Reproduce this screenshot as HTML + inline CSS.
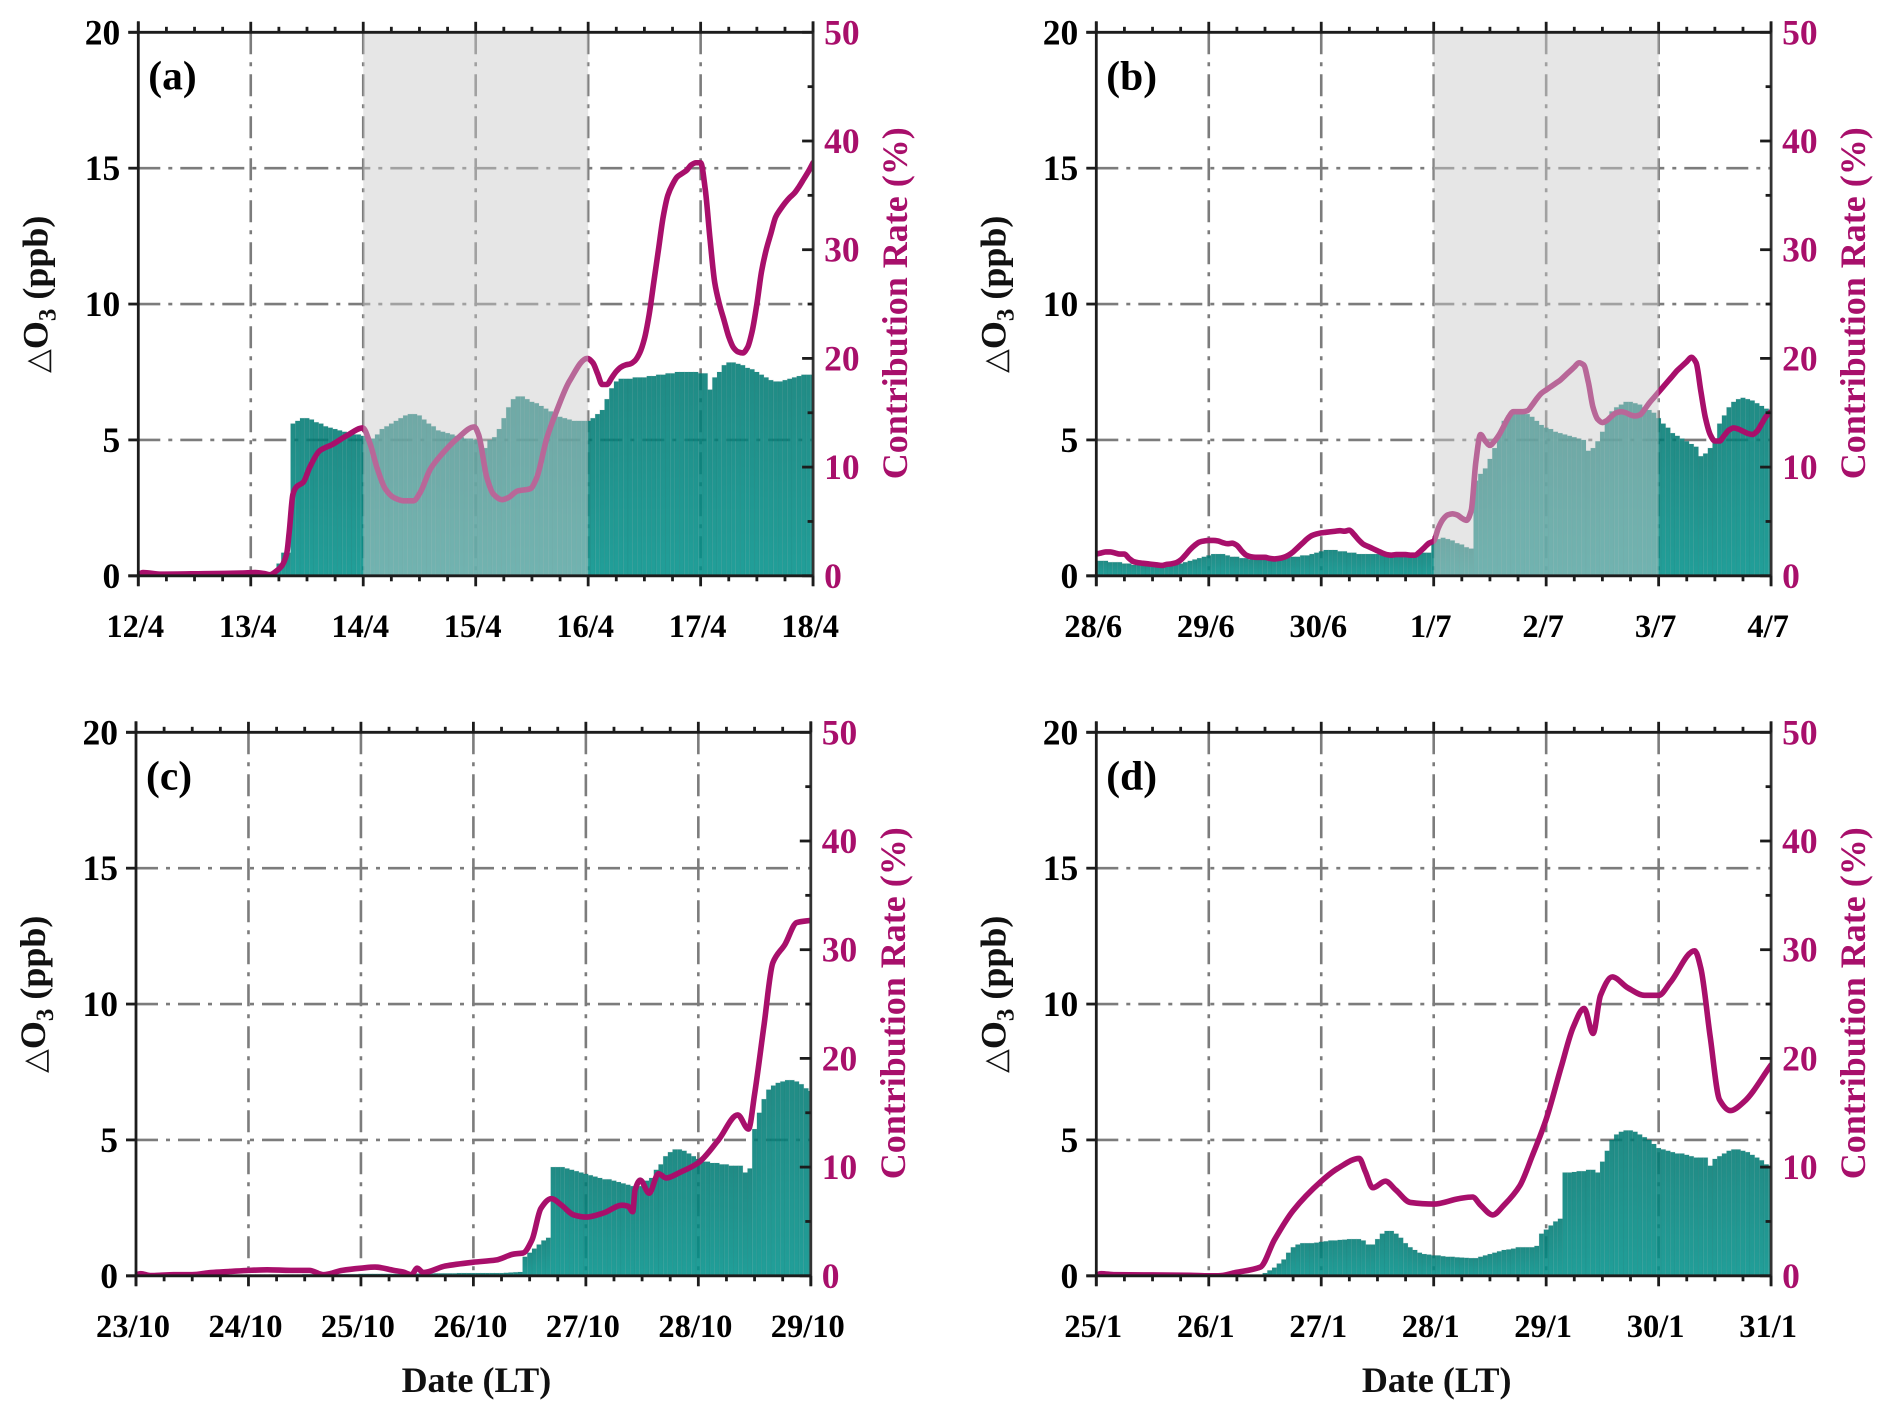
<!DOCTYPE html>
<html lang="en">
<head>
<meta charset="utf-8">
<title>Ozone contribution panels</title>
<style>
html,body{margin:0;padding:0;background:#fff;}
svg{display:block;}
text{font-family:"Liberation Serif","DejaVu Serif",serif;font-weight:bold;}
</style>
</head>
<body>
<svg id="figure" xmlns="http://www.w3.org/2000/svg" width="1892" height="1420" viewBox="0 0 1892 1420"></svg>
<script>
const dateLabelsA = ['12/4','13/4','14/4','15/4','16/4','17/4','18/4'];
const dateLabelsB = ['28/6','29/6','30/6','1/7','2/7','3/7','4/7'];
const dateLabelsC = ['23/10','24/10','25/10','26/10','27/10','28/10','29/10'];
const dateLabelsD = ['25/1','26/1','27/1','28/1','29/1','30/1','31/1'];
const leftTicks = [0,5,10,15,20];
const rightTicks = [0,10,20,30,40,50];

const barsA = [
.05,.05,.05,.05,.05,.05,.05,.05,.05,.05,.05,.05,.05,.05,.05,.05,.05,.05,.05,.05,.05,.05,.05,.05,
.05,.05,.05,.05,.1,.15,.45,.85,.85,5.6,5.7,5.8,5.8,5.75,5.65,5.6,5.5,5.45,5.4,5.35,5.3,5.25,5.2,5.2,
5.15,5.05,5.05,5.2,5.4,5.5,5.6,5.7,5.8,5.9,5.95,5.95,5.9,5.75,5.6,5.5,5.35,5.3,5.25,5.2,5.15,5.1,5.05,5.05,
5.0,4.95,4.7,5.0,5.1,5.4,5.8,6.2,6.5,6.6,6.6,6.5,6.4,6.35,6.25,6.15,6.05,5.95,5.85,5.8,5.75,5.7,5.7,5.7,
5.7,5.8,5.95,6.1,6.5,6.9,7.15,7.25,7.25,7.25,7.3,7.3,7.3,7.35,7.35,7.4,7.4,7.45,7.45,7.5,7.5,7.5,7.5,7.5,
7.45,7.45,6.85,7.3,7.5,7.75,7.85,7.85,7.8,7.75,7.65,7.6,7.5,7.4,7.3,7.2,7.15,7.15,7.2,7.25,7.3,7.35,7.4,7.4,7.4];
const rateHoursA = [0,1,5,14,22,25,27,28.1,29.5,30.6,31.65,32.2,33,33.8,35.2,36.6,38.7,41.5,44.5,47.9,49.5,50.9,52.7,54.5,56.6,58.7,60.2,62.3,64.4,68,71.7,72.6,74.4,75.8,77.6,79,80.9,83.6,85,87.2,89.3,92,95.8,
97,98,99,100,101,102,103,104,105,106,107,108,109,110,111,112,113,114,115,116,117,118,119,120,121,122,123,124,125,126,127,128,129,130,131,132,133,134,135,136,137,138,139,140,141,142,143,144];
const rateValuesA = [.1,.3,.15,.2,.25,.3,.2,.1,.45,.9,2,4,7.5,8.2,8.6,10,11.5,12.1,12.9,13.6,12.1,10,8,7.2,6.9,6.9,7.7,9.8,11,12.6,13.7,13,9,7.5,7,7.2,7.8,8,9,12.7,15.2,17.9,20,
19.6,18.6,17.6,17.6,18.2,18.8,19.2,19.4,19.5,19.8,20.5,21.8,24,27,30,33,35,36,36.7,37,37.3,37.8,38,38,35.5,31,27,25,23.5,22,21,20.6,20.5,21,22.5,25,28,30,31.5,33,33.7,34.3,34.8,35.2,35.8,36.5,37.2,38];

const barsB = [
.55,.55,.55,.5,.5,.5,.45,.45,.4,.4,.4,.4,.4,.4,.4,.4,.4,.45,.45,.5,.55,.6,.65,.7,
.75,.8,.8,.8,.75,.7,.7,.65,.65,.6,.6,.6,.6,.6,.65,.65,.7,.7,.7,.7,.75,.75,.8,.85,
.9,.95,.95,.95,.9,.9,.85,.85,.8,.8,.8,.8,.8,.8,.8,.8,.8,.8,.8,.8,.8,.85,.85,.85,
1.3,1.35,1.4,1.35,1.3,1.2,1.15,1.05,1.0,3.5,3.75,3.95,4.3,4.7,5.2,5.7,5.9,6.0,6.05,6.05,5.95,5.85,5.7,5.55,
5.45,5.4,5.3,5.25,5.2,5.15,5.1,5.05,5.0,4.6,4.7,4.95,5.3,5.7,6.05,6.2,6.3,6.4,6.4,6.35,6.3,6.2,6.1,6.0,
5.8,5.6,5.45,5.25,5.15,5.05,4.95,4.85,4.75,4.4,4.5,4.7,5.0,5.6,5.9,6.2,6.4,6.5,6.55,6.5,6.45,6.35,6.25,6.15,6.0];
const rateHoursB = [];
const rateValuesB = [2.0,2.1,2.2,2.2,2.1,2.0,2.0,1.6,1.3,1.2,1.15,1.1,1.05,1.0,.95,1.05,1.1,1.2,1.45,1.9,2.4,2.8,3.1,3.2,
3.25,3.25,3.2,3.05,2.95,3.0,2.8,2.3,1.9,1.75,1.7,1.7,1.7,1.6,1.55,1.6,1.7,1.9,2.2,2.6,3.0,3.4,3.7,3.85,
3.95,4.0,4.05,4.1,4.15,4.1,4.2,3.8,3.3,2.9,2.7,2.5,2.3,2.1,1.95,1.9,1.95,1.95,1.95,1.9,1.9,2.2,2.6,3.0,
3.2,4.4,5.2,5.6,5.7,5.6,5.3,5.1,6,10.5,13,12.4,12.0,12.4,13,13.8,14.6,15.1,15.1,15.1,15.2,15.7,16.3,16.8,
17.1,17.4,17.7,18,18.4,18.8,19.2,19.6,19.4,17.8,15.5,14.4,14.1,14.3,14.7,15.0,15.1,15,14.8,14.7,14.8,15.3,15.9,16.4,
16.9,17.4,17.9,18.4,18.9,19.3,19.7,20.1,19.6,17,14.5,13,12.4,12.4,12.9,13.4,13.6,13.5,13.3,13.1,13,13.3,14,14.7,15.1];
rateValuesB.forEach(function(v,i){rateHoursB.push(i);});

const barsC = [
.02,.02,.02,.02,.02,.02,.02,.02,.02,.02,.02,.02,.02,.02,.04,.04,.04,.04,.04,.04,.04,.04,.04,.04,
.05,.05,.05,.05,.05,.05,.05,.05,.05,.05,.05,.05,.06,.06,.06,.06,.06,.06,.06,.06,.06,.06,.06,.06,
.07,.07,.07,.07,.07,.07,.07,.07,.07,.07,.08,.08,.08,.08,.08,.08,.09,.09,.09,.09,.09,.1,.1,.1,
.1,.1,.1,.1,.1,.1,.1,.11,.12,.13,.14,.7,.85,1.0,1.15,1.3,1.4,4.0,4.0,4.0,3.95,3.9,3.85,3.8,
3.75,3.7,3.65,3.6,3.55,3.55,3.5,3.45,3.4,3.35,3.3,3.3,3.3,3.5,3.6,3.9,4.1,4.4,4.55,4.65,4.65,4.6,4.5,4.4,
4.3,4.2,4.2,4.15,4.15,4.1,4.1,4.05,4.05,4.05,3.8,3.95,5.4,6.0,6.5,6.85,7.0,7.1,7.15,7.2,7.2,7.15,7.05,6.9,6.8];
const rateHoursC = [0,1,3,5,8,12,16,20,24,28,33,37,40,44,48,51,55,57,58.8,60,61.3,66,72,76.8,80.6,82.6,84.5,86.4,88.6,90.8,93.4,96,99.9,103.7,105,106,106.5,107.6,109.5,111.5,113.1,116,120,124.3,128.4,130.7,132,134,135.9,138.5,141,144];
const rateValuesC = [.1,.2,.02,.05,.1,.1,.3,.4,.5,.55,.5,.5,.1,.5,.7,.8,.5,.35,.1,.7,.3,.9,1.25,1.45,2.0,2.1,3.3,6.2,7.1,6.5,5.6,5.4,5.8,6.5,6.4,5.9,7.9,8.8,7.6,9.4,9,9.5,10.4,12.5,14.8,13.5,16.7,23,28.8,30.5,32.5,32.7];

const barsD = [
.01,.01,.01,.01,.01,.01,.01,.01,.01,.01,.01,.01,.01,.01,.01,.01,.01,.01,.01,.01,.01,.01,.01,.01,
.01,.01,.01,.01,.01,.01,.01,.01,.01,.01,.01,.02,.1,.2,.3,.45,.6,.85,1.05,1.15,1.2,1.2,1.2,1.22,
1.25,1.27,1.3,1.3,1.32,1.33,1.35,1.35,1.35,1.3,1.15,1.15,1.35,1.55,1.65,1.65,1.55,1.4,1.2,1.05,.95,.85,.8,.78,
.75,.75,.72,.7,.7,.68,.67,.66,.65,.65,.7,.75,.8,.85,.9,.95,.97,1.0,1.05,1.05,1.05,1.05,1.1,1.55,
1.7,1.85,2.0,2.1,3.8,3.8,3.82,3.85,3.85,3.9,3.9,3.8,4.2,4.6,5.0,5.2,5.3,5.35,5.35,5.3,5.2,5.1,5.0,4.85,
4.7,4.65,4.6,4.55,4.5,4.5,4.45,4.4,4.35,4.35,4.35,4.05,4.3,4.4,4.5,4.6,4.65,4.65,4.6,4.55,4.45,4.35,4.25,4.1,4.0];
const rateHoursD = [0,1,4,12,20,24,26,29.7,35,38,42,48,51.6,56.1,57.4,59,61.7,63.9,67,72,77.4,80.3,82,84.6,87,90.4,93,96,99.2,101.8,104.1,106,107.6,110.1,113.4,117,120,122.5,127.7,129,131,133,135.3,138.2,144];
const rateValuesD = [.05,.2,.1,.08,.05,0,0,.3,.8,3.3,6.0,8.7,9.9,10.8,9.6,8.1,8.7,7.9,6.75,6.6,7.1,7.25,6.5,5.6,6.5,8.3,11,14.4,19.2,22.9,24.6,22.3,25.8,27.5,26.5,25.8,25.8,27,29.9,28.3,22,16.2,15.2,16,19.4];

const svg = document.getElementById('figure');
const NS = 'http://www.w3.org/2000/svg';
const plotW = 674.8, plotH = 543.5, hoursSpan = 144;

function mk(parent, tag, attrs, text) {
  const el = document.createElementNS(NS, tag);
  for (const k in attrs) el.setAttribute(k, attrs[k]);
  if (text !== undefined) el.textContent = text;
  parent.appendChild(el);
  return el;
}

const defs = mk(svg, 'defs', {});
const grad = mk(defs, 'linearGradient', {id:'barFill', x1:'0', y1:'0', x2:'0', y2:'1'});
mk(grad, 'stop', {offset:'0', 'stop-color':'#007b74'});
mk(grad, 'stop', {offset:'1', 'stop-color':'#00918a'});

function curvePath(xs, ys) {
  const n = xs.length, d = [], m = [];
  for (let i = 0; i < n - 1; i++) d.push((ys[i+1]-ys[i])/(xs[i+1]-xs[i]));
  m[0] = d[0]; m[n-1] = d[n-2];
  for (let i = 1; i < n - 1; i++) {
    m[i] = d[i-1]*d[i] <= 0 ? 0 : 2*d[i-1]*d[i]/(d[i-1]+d[i]);
  }
  let p = 'M' + xs[0].toFixed(2) + ' ' + ys[0].toFixed(2);
  for (let i = 0; i < n - 1; i++) {
    const h = (xs[i+1]-xs[i])/3;
    p += 'C' + (xs[i]+h).toFixed(2) + ' ' + (ys[i]+m[i]*h).toFixed(2) + ' ' +
         (xs[i+1]-h).toFixed(2) + ' ' + (ys[i+1]-m[i+1]*h).toFixed(2) + ' ' +
         xs[i+1].toFixed(2) + ' ' + ys[i+1].toFixed(2);
  }
  return p;
}

function drawPanel(cfg) {
  const x0 = cfg.x, y0 = cfg.y;
  const xScale = function(h){ return x0 + h/hoursSpan*plotW; };
  const yLeft = function(v){ return y0 + plotH - v/20*plotH; };
  const yRight = function(v){ return y0 + plotH - v/50*plotH; };
  const dark = '#1c1c1c', rateColor = '#a80f6b', gridColor = '#7c7c7c';

  const g = mk(svg, 'g', {});
  
  

  const clipId = 'clip-' + cfg.id;
  const cp = mk(defs, 'clipPath', {id:clipId});
  mk(cp, 'rect', {x:x0, y:y0-3, width:plotW+1, height:plotH+3});

  const gridG = mk(g, 'g', {stroke:gridColor, 'stroke-width':'2.6', 'stroke-dasharray':'22 8 4 8', fill:'none'});
  
  
  leftTicks.forEach(function(v){
    if (v === 0 || v === 20) return;
    mk(gridG, 'line', {x1:x0, x2:x0+plotW, y1:yLeft(v), y2:yLeft(v)});
  });
  cfg.dates.forEach(function(lbl,i){
    if (i === 0 || i === cfg.dates.length-1) return;
    mk(gridG, 'line', {x1:xScale(i*24), x2:xScale(i*24), y1:y0, y2:y0+plotH});
  });

  const barsG = mk(g, 'g', {'clip-path':'url(#'+clipId+')', opacity:'0.87'});
  
  
  const bw = plotW/hoursSpan;
  cfg.bars.forEach(function(v,i){
    const r = mk(barsG, 'rect', {x:xScale(i)-bw/2, y:yLeft(v), width:bw, height:yLeft(0)-yLeft(v), fill:'url(#barFill)', stroke:'rgba(0,70,70,0.08)', 'stroke-width':'1'});
    
    
  });

  const line = mk(g, 'path', {d:curvePath(cfg.rateHours.map(xScale), cfg.rateValues.map(yRight)), fill:'none', stroke:rateColor, 'stroke-width':'5.6', 'stroke-linejoin':'round', 'stroke-linecap':'round', 'clip-path':'url(#'+clipId+')'});
  
  

  if (cfg.band) {
    const band = mk(g, 'rect', {x:xScale(cfg.band[0]*24), y:y0-1, width:xScale(cfg.band[1]*24)-xScale(cfg.band[0]*24), height:plotH+1, fill:'rgb(202,202,202)', 'fill-opacity':'0.473'});
    
    
  }

  const axes = mk(g, 'g', {stroke:dark, 'stroke-width':'2.8', fill:'none'});
  
  
  mk(axes, 'line', {x1:x0, x2:x0, y1:y0-11, y2:y0+plotH+10});
  mk(axes, 'line', {x1:x0+plotW, x2:x0+plotW, y1:y0-11, y2:y0+plotH+10, stroke:'#333'});
  mk(axes, 'line', {x1:x0-10, x2:x0+plotW, y1:y0, y2:y0});
  mk(axes, 'line', {x1:x0-10, x2:x0+plotW, y1:y0+plotH, y2:y0+plotH});
  for (let h = 0; h <= hoursSpan; h += 6) {
    const major = h % 24 === 0, len = major ? 10.5 : 5.5;
    mk(axes, 'line', {x1:xScale(h), x2:xScale(h), y1:y0, y2:y0-len});
    mk(axes, 'line', {x1:xScale(h), x2:xScale(h), y1:y0+plotH, y2:y0+plotH+len});
  }
  leftTicks.forEach(function(v){
    mk(axes, 'line', {x1:x0, x2:x0-10, y1:yLeft(v), y2:yLeft(v)});
  });
  for (let v = 0; v <= 50; v += 5) {
    const len = v % 10 === 0 ? 11 : 5.5;
    mk(axes, 'line', {x1:x0+plotW, x2:x0+plotW-len, y1:yRight(v), y2:yRight(v)});
  }

  leftTicks.forEach(function(v){
    const t = mk(g, 'text', {x:x0-18, y:yLeft(v)+12, 'text-anchor':'end', 'font-size':'35.5', fill:'#000'}, String(v));
    
    
  });
  rightTicks.forEach(function(v){
    const t = mk(g, 'text', {x:x0+plotW+11, y:yRight(v)+12, 'font-size':'35.5', fill:rateColor}, String(v));
    
    
  });
  cfg.dates.forEach(function(lbl,i){
    const t = mk(g, 'text', {x:xScale(i*24)-3, y:y0+plotH+61, 'text-anchor':'middle', 'font-size':'32.5', fill:'#000'}, lbl);
    
    
  });

  const panelTag = mk(g, 'text', {x:x0+10, y:y0+57, 'font-size':'41.5', fill:'#000'}, '(' + cfg.id + ')');
  
  

  const yc1 = y0 + 262, lx = x0 - 91;
  const lt = mk(g, 'text', {transform:'translate('+lx+' '+yc1+') rotate(-90)', 'text-anchor':'middle', 'font-size':'36', fill:'#111'});
  
  
  mk(lt, 'tspan', {style:'font-family:\"DejaVu Sans\",sans-serif;font-weight:normal;font-size:31px'}, '△');
  mk(lt, 'tspan', {}, 'O');
  mk(lt, 'tspan', {dy:'8', 'font-size':'25'}, '3');
  mk(lt, 'tspan', {dy:'-8'}, ' (ppb)');

  const rt = mk(g, 'text', {transform:'translate('+(x0+plotW+94)+' '+(y0+271)+') rotate(-90)', 'text-anchor':'middle', 'font-size':'36', fill:rateColor}, 'Contribution Rate (%)');
  
  

  if (cfg.xTitle) {
    const xt = mk(g, 'text', {x:x0+plotW/2+3, y:y0+plotH+116, 'text-anchor':'middle', 'font-size':'36', fill:'#111'}, 'Date (LT)');
    
    
  }
}

drawPanel({id:'a', x:138.3, y:32.3, dates:dateLabelsA, bars:barsA, rateHours:rateHoursA, rateValues:rateValuesA, band:[2,4]});
drawPanel({id:'b', x:1096.3, y:32.3, dates:dateLabelsB, bars:barsB, rateHours:rateHoursB, rateValues:rateValuesB, band:[3,5]});
drawPanel({id:'c', x:136, y:732.3, dates:dateLabelsC, bars:barsC, rateHours:rateHoursC, rateValues:rateValuesC, xTitle:true});
drawPanel({id:'d', x:1096.3, y:732.3, dates:dateLabelsD, bars:barsD, rateHours:rateHoursD, rateValues:rateValuesD, xTitle:true});
</script>
</body>
</html>
